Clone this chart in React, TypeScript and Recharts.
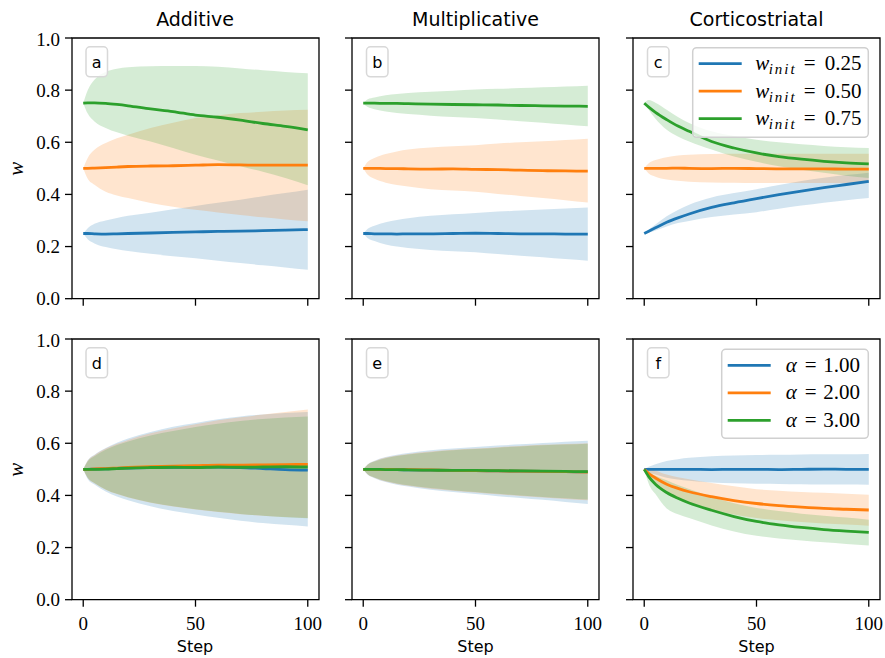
import React from 'react';
import { ComposedChart, Area, Line, XAxis, YAxis, ReferenceArea } from 'recharts';

// ---------- data ----------
const steps = [0, 2, 5, 10, 15, 20, 30, 40, 50, 60, 70, 80, 90, 100];
const xTicks = [0, 50, 100];
const yTicks = [0, 0.2, 0.4, 0.6, 0.8, 1.0];
const columnTitles = ['Additive', 'Multiplicative', 'Corticostriatal'];
const panelLetters = ['a', 'b', 'c', 'd', 'e', 'f'];
const topLegendValues = ['0.25', '0.50', '0.75'];
const bottomLegendValues = ['1.00', '2.00', '3.00'];
const colors = ['#1f77b4', '#ff7f0e', '#2ca02c'];

// panel a (Additive, w_init)
const aBlueMean = [0.25, 0.25, 0.249, 0.248, 0.249, 0.25, 0.252, 0.254, 0.256, 0.258, 0.259, 0.261, 0.263, 0.265];
const aBlueLo = [0.25, 0.228, 0.212, 0.198, 0.19, 0.183, 0.172, 0.163, 0.155, 0.146, 0.137, 0.128, 0.12, 0.111];
const aBlueHi = [0.25, 0.27, 0.287, 0.3, 0.31, 0.318, 0.33, 0.343, 0.356, 0.368, 0.38, 0.393, 0.405, 0.418];
const aOrangeMean = [0.5, 0.5, 0.501, 0.503, 0.505, 0.507, 0.509, 0.51, 0.512, 0.514, 0.513, 0.512, 0.512, 0.512];
const aOrangeLo = [0.5, 0.46, 0.437, 0.41, 0.396, 0.386, 0.367, 0.353, 0.341, 0.331, 0.321, 0.312, 0.304, 0.297];
const aOrangeHi = [0.5, 0.54, 0.571, 0.597, 0.615, 0.629, 0.655, 0.675, 0.693, 0.703, 0.712, 0.717, 0.722, 0.725];
const aGreenMean = [0.75, 0.751, 0.751, 0.749, 0.745, 0.74, 0.728, 0.718, 0.704, 0.696, 0.685, 0.672, 0.661, 0.648];
const aGreenLo = [0.75, 0.71, 0.68, 0.655, 0.638, 0.625, 0.603, 0.578, 0.552, 0.53, 0.508, 0.487, 0.463, 0.435];
const aGreenHi = [0.75, 0.8, 0.84, 0.87, 0.882, 0.888, 0.892, 0.893, 0.893, 0.89, 0.883, 0.876, 0.87, 0.865];

// panel b (Multiplicative, w_init)
const bBlueMean = [0.25, 0.25, 0.249, 0.249, 0.248, 0.249, 0.249, 0.25, 0.251, 0.25, 0.249, 0.249, 0.248, 0.248];
const bBlueLo = [0.25, 0.232, 0.221, 0.208, 0.2, 0.194, 0.187, 0.182, 0.178, 0.171, 0.165, 0.159, 0.152, 0.146];
const bBlueHi = [0.25, 0.268, 0.28, 0.293, 0.302, 0.309, 0.318, 0.324, 0.329, 0.334, 0.338, 0.342, 0.346, 0.35];
const bOrangeMean = [0.5, 0.5, 0.5, 0.499, 0.499, 0.498, 0.497, 0.498, 0.496, 0.495, 0.493, 0.491, 0.49, 0.489];
const bOrangeLo = [0.5, 0.475, 0.46, 0.445, 0.436, 0.43, 0.42, 0.415, 0.41, 0.402, 0.394, 0.386, 0.378, 0.369];
const bOrangeHi = [0.5, 0.525, 0.54, 0.555, 0.565, 0.572, 0.58, 0.585, 0.589, 0.595, 0.6, 0.604, 0.609, 0.614];
const bGreenMean = [0.75, 0.75, 0.75, 0.749, 0.749, 0.748, 0.746, 0.745, 0.744, 0.743, 0.741, 0.74, 0.739, 0.738];
const bGreenLo = [0.75, 0.735, 0.727, 0.718, 0.712, 0.708, 0.702, 0.697, 0.693, 0.687, 0.681, 0.675, 0.668, 0.661];
const bGreenHi = [0.75, 0.765, 0.772, 0.78, 0.785, 0.789, 0.794, 0.798, 0.802, 0.805, 0.808, 0.811, 0.814, 0.817];

// panel c (Corticostriatal, w_init)
const cBlueMean = [0.25, 0.259, 0.272, 0.293, 0.31, 0.325, 0.35, 0.368, 0.384, 0.399, 0.413, 0.426, 0.438, 0.45];
const cBlueLo = [0.25, 0.253, 0.262, 0.277, 0.29, 0.298, 0.313, 0.323, 0.332, 0.345, 0.357, 0.368, 0.378, 0.386];
const cBlueHi = [0.25, 0.265, 0.285, 0.316, 0.34, 0.36, 0.388, 0.405, 0.42, 0.436, 0.451, 0.464, 0.474, 0.483];
const cOrangeMean = [0.5, 0.5, 0.5, 0.5, 0.501, 0.5, 0.499, 0.5, 0.499, 0.498, 0.498, 0.498, 0.497, 0.497];
const cOrangeLo = [0.5, 0.48, 0.468, 0.457, 0.452, 0.449, 0.446, 0.445, 0.444, 0.444, 0.444, 0.444, 0.444, 0.444];
const cOrangeHi = [0.5, 0.52, 0.532, 0.543, 0.549, 0.552, 0.555, 0.556, 0.556, 0.556, 0.556, 0.556, 0.556, 0.556];
const cGreenMean = [0.75, 0.735, 0.715, 0.687, 0.662, 0.642, 0.603, 0.578, 0.559, 0.545, 0.535, 0.527, 0.521, 0.517];
const cGreenLo = [0.75, 0.725, 0.69, 0.648, 0.622, 0.603, 0.572, 0.545, 0.525, 0.508, 0.495, 0.483, 0.472, 0.463];
const cGreenHi = [0.75, 0.762, 0.752, 0.725, 0.697, 0.674, 0.642, 0.624, 0.61, 0.6, 0.592, 0.586, 0.581, 0.578];

// panel d (Additive, alpha)
const dBlueMean = [0.5, 0.5, 0.501, 0.502, 0.504, 0.505, 0.507, 0.508, 0.508, 0.509, 0.507, 0.503, 0.499, 0.497];
const dBlueLo = [0.5, 0.463, 0.442, 0.415, 0.396, 0.381, 0.358, 0.34, 0.327, 0.314, 0.303, 0.294, 0.287, 0.281];
const dBlueHi = [0.5, 0.535, 0.556, 0.582, 0.602, 0.618, 0.643, 0.663, 0.678, 0.692, 0.703, 0.71, 0.716, 0.72];
const dOrangeMean = [0.5, 0.5, 0.502, 0.503, 0.505, 0.507, 0.51, 0.512, 0.514, 0.516, 0.516, 0.517, 0.518, 0.519];
const dOrangeLo = [0.5, 0.467, 0.447, 0.422, 0.405, 0.392, 0.372, 0.357, 0.346, 0.336, 0.328, 0.322, 0.317, 0.313];
const dOrangeHi = [0.5, 0.533, 0.554, 0.58, 0.598, 0.613, 0.638, 0.657, 0.673, 0.688, 0.7, 0.71, 0.72, 0.73];
const dGreenMean = [0.5, 0.5, 0.5, 0.501, 0.503, 0.505, 0.507, 0.508, 0.507, 0.509, 0.508, 0.509, 0.51, 0.509];
const dGreenLo = [0.5, 0.468, 0.448, 0.423, 0.406, 0.393, 0.373, 0.358, 0.347, 0.337, 0.329, 0.322, 0.316, 0.312];
const dGreenHi = [0.5, 0.53, 0.55, 0.575, 0.593, 0.607, 0.63, 0.647, 0.662, 0.675, 0.685, 0.693, 0.699, 0.703];

// panel e (Multiplicative, alpha)
const eBlueMean = [0.5, 0.5, 0.5, 0.499, 0.499, 0.498, 0.497, 0.496, 0.495, 0.494, 0.493, 0.492, 0.491, 0.49];
const eBlueLo = [0.5, 0.479, 0.466, 0.451, 0.441, 0.434, 0.422, 0.413, 0.405, 0.397, 0.39, 0.383, 0.375, 0.367];
const eBlueHi = [0.5, 0.52, 0.533, 0.547, 0.556, 0.563, 0.573, 0.58, 0.586, 0.591, 0.596, 0.601, 0.606, 0.61];
const eOrangeMean = [0.5, 0.5, 0.5, 0.5, 0.499, 0.499, 0.498, 0.496, 0.495, 0.494, 0.493, 0.492, 0.491, 0.489];
const eOrangeLo = [0.5, 0.48, 0.468, 0.453, 0.444, 0.437, 0.426, 0.418, 0.411, 0.404, 0.398, 0.392, 0.386, 0.381];
const eOrangeHi = [0.5, 0.519, 0.531, 0.545, 0.553, 0.559, 0.568, 0.575, 0.58, 0.585, 0.59, 0.594, 0.597, 0.6];
const eGreenMean = [0.5, 0.5, 0.5, 0.499, 0.499, 0.498, 0.497, 0.496, 0.496, 0.495, 0.494, 0.493, 0.492, 0.491];
const eGreenLo = [0.5, 0.481, 0.469, 0.455, 0.446, 0.439, 0.428, 0.42, 0.413, 0.406, 0.4, 0.394, 0.389, 0.384];
const eGreenHi = [0.5, 0.518, 0.53, 0.543, 0.551, 0.557, 0.566, 0.573, 0.578, 0.583, 0.588, 0.592, 0.595, 0.598];

// panel f (Corticostriatal, alpha)
const fBlueMean = [0.5, 0.5, 0.5, 0.5, 0.5, 0.5, 0.499, 0.5, 0.5, 0.499, 0.5, 0.501, 0.5, 0.5];
const fBlueLo = [0.5, 0.49, 0.48, 0.468, 0.461, 0.456, 0.45, 0.447, 0.445, 0.444, 0.443, 0.442, 0.442, 0.441];
const fBlueHi = [0.5, 0.51, 0.52, 0.532, 0.539, 0.544, 0.55, 0.553, 0.555, 0.556, 0.557, 0.558, 0.558, 0.559];
const fOrangeMean = [0.5, 0.484, 0.467, 0.443, 0.427, 0.414, 0.395, 0.38, 0.369, 0.361, 0.355, 0.35, 0.347, 0.344];
const fOrangeLo = [0.5, 0.465, 0.44, 0.405, 0.385, 0.37, 0.345, 0.327, 0.313, 0.305, 0.298, 0.292, 0.288, 0.284];
const fOrangeHi = [0.5, 0.5, 0.495, 0.48, 0.47, 0.462, 0.448, 0.435, 0.424, 0.418, 0.413, 0.41, 0.406, 0.403];
const fGreenMean = [0.5, 0.472, 0.443, 0.411, 0.389, 0.371, 0.343, 0.319, 0.3, 0.287, 0.277, 0.269, 0.263, 0.258];
const fGreenLo = [0.5, 0.445, 0.405, 0.35, 0.328, 0.313, 0.285, 0.262, 0.245, 0.235, 0.227, 0.22, 0.214, 0.208];
const fGreenHi = [0.5, 0.492, 0.475, 0.458, 0.44, 0.425, 0.395, 0.37, 0.352, 0.34, 0.33, 0.322, 0.315, 0.307];

type Series = { mean: number[]; lo: number[]; hi: number[] };

const panelSeries: Series[][] = [
  [
    { mean: aBlueMean, lo: aBlueLo, hi: aBlueHi },
    { mean: aOrangeMean, lo: aOrangeLo, hi: aOrangeHi },
    { mean: aGreenMean, lo: aGreenLo, hi: aGreenHi },
  ],
  [
    { mean: bBlueMean, lo: bBlueLo, hi: bBlueHi },
    { mean: bOrangeMean, lo: bOrangeLo, hi: bOrangeHi },
    { mean: bGreenMean, lo: bGreenLo, hi: bGreenHi },
  ],
  [
    { mean: cBlueMean, lo: cBlueLo, hi: cBlueHi },
    { mean: cOrangeMean, lo: cOrangeLo, hi: cOrangeHi },
    { mean: cGreenMean, lo: cGreenLo, hi: cGreenHi },
  ],
  [
    { mean: dBlueMean, lo: dBlueLo, hi: dBlueHi },
    { mean: dOrangeMean, lo: dOrangeLo, hi: dOrangeHi },
    { mean: dGreenMean, lo: dGreenLo, hi: dGreenHi },
  ],
  [
    { mean: eBlueMean, lo: eBlueLo, hi: eBlueHi },
    { mean: eOrangeMean, lo: eOrangeLo, hi: eOrangeHi },
    { mean: eGreenMean, lo: eGreenLo, hi: eGreenHi },
  ],
  [
    { mean: fBlueMean, lo: fBlueLo, hi: fBlueHi },
    { mean: fOrangeMean, lo: fOrangeLo, hi: fOrangeHi },
    { mean: fGreenMean, lo: fGreenLo, hi: fGreenHi },
  ],
];

// ---------- layout ----------
const COL_LEFT = [71.5, 352, 633];
const ROW_TOP = [38.3, 339.3];
const PLOT_W = 247;
const PLOT_H = 260.7;
const Y_AXIS_W = 70;
const X_AXIS_H = 45;
const M_TOP = 10;
const M_RIGHT = 10;

const SERIF = 'Liberation Serif';
const SANS = 'DejaVu Sans';

function buildData(series: Series[]) {
  return steps.map((s, i) => {
    const row: Record<string, any> = { step: s };
    series.forEach((sr, k) => {
      row['m' + k] = sr.mean[i];
      row['b' + k] = [sr.lo[i], sr.hi[i]];
    });
    return row;
  });
}

function Panel({ index }: { index: number }) {
  const r = Math.floor(index / 3);
  const c = index % 3;
  const series = panelSeries[index];
  const data = buildData(series);
  return (
    <div style={{ position: 'absolute', left: COL_LEFT[c] - Y_AXIS_W, top: ROW_TOP[r] - M_TOP }}>
      <ComposedChart
        width={PLOT_W + Y_AXIS_W + M_RIGHT}
        height={PLOT_H + M_TOP + X_AXIS_H}
        data={data}
        margin={{ top: M_TOP, right: M_RIGHT, bottom: 0, left: 0 }}
      >
        <XAxis
          dataKey="step"
          type="number"
          domain={[-5, 105]}
          ticks={xTicks}
          axisLine={false}
          tickLine={{ stroke: '#000', strokeWidth: 1.3 }}
          tickSize={7}
          tickMargin={10}
          height={X_AXIS_H}
          tick={{ fill: '#000', fontSize: 19, fontFamily: SERIF }}
          tickFormatter={r === 1 ? (v: number) => String(v) : () => ''}
        />
        <YAxis
          type="number"
          domain={[0, 1]}
          ticks={yTicks}
          axisLine={false}
          tickLine={{ stroke: '#000', strokeWidth: 1.3 }}
          tickSize={7}
          tickMargin={5}
          width={Y_AXIS_W}
          tick={{ fill: '#000', fontSize: 19, fontFamily: SERIF }}
          tickFormatter={c === 0 ? (v: number) => v.toFixed(1) : () => ''}
        />
        {series.map((_, k) => (
          <Area
            key={'band' + k}
            dataKey={'b' + k}
            type="monotone"
            stroke="none"
            fill={colors[k]}
            fillOpacity={0.2}
            dot={false}
            activeDot={false}
            isAnimationActive={false}
          />
        ))}
        {series.map((_, k) => (
          <Line
            key={'line' + k}
            dataKey={'m' + k}
            type="monotone"
            stroke={colors[k]}
            strokeWidth={2.8}
            dot={false}
            activeDot={false}
            isAnimationActive={false}
          />
        ))}
        <ReferenceArea
          x1={-5}
          x2={105}
          y1={0}
          y2={1}
          fill="none"
          stroke="#000"
          strokeWidth={1.3}
          ifOverflow="visible"
        />
      </ComposedChart>
    </div>
  );
}

function LegendBox({ x, y, w, h, kind, labels }: { x: number; y: number; w: number; h: number; kind: 'w' | 'a'; labels: string[] }) {
  const rowY = [y + 16, y + 43.5, y + 71];
  return (
    <g>
      <rect x={x} y={y} width={w} height={h} rx={4} ry={4} fill="#fff" fillOpacity={0.8} stroke="#d0d0d0" strokeWidth={1.5} />
      {labels.map((lab, i) => (
        <g key={lab}>
          <line x1={x + 6} x2={x + 49} y1={rowY[i]} y2={rowY[i]} stroke={colors[i]} strokeWidth={2.8} />
          {kind === 'w' ? (
            <text y={rowY[i] + 6.5} fontFamily={SERIF} fontSize={21} fill="#000">
              <tspan x={x + 62.5} fontStyle="italic">w</tspan>
              <tspan x={x + 76} dy={4} fontStyle="italic" fontSize={15} letterSpacing={2}>init</tspan>
              <tspan x={x + 111} dy={-4}>=</tspan>
              <tspan x={x + 132}>{lab}</tspan>
            </text>
          ) : (
            <text y={rowY[i] + 6.5} fontFamily={SERIF} fontSize={21} fill="#000">
              <tspan x={x + 64} fontStyle="italic">α</tspan>
              <tspan x={x + 83}>=</tspan>
              <tspan x={x + 101.5}>{lab}</tspan>
            </text>
          )}
        </g>
      ))}
    </g>
  );
}

function Overlay() {
  return (
    <svg width={885} height={658} style={{ position: 'absolute', left: 0, top: 0, pointerEvents: 'none' }}>
      {columnTitles.map((t, c) => (
        <text key={t} x={COL_LEFT[c] + PLOT_W / 2} y={26} textAnchor="middle" fontFamily={SANS} fontSize={19} fill="#000">
          {t}
        </text>
      ))}
      {COL_LEFT.map((l, c) => (
        <text key={'step' + c} x={l + PLOT_W / 2} y={652} textAnchor="middle" fontFamily={SANS} fontSize={16} fill="#000">
          Step
        </text>
      ))}
      {ROW_TOP.map((t, r) => (
        <text
          key={'yl' + r}
          x={16}
          y={t + PLOT_H / 2}
          transform={`rotate(-90 16 ${t + PLOT_H / 2})`}
          textAnchor="middle"
          dominantBaseline="central"
          fontFamily={SERIF}
          fontStyle="italic"
          fontSize={21}
          fill="#000"
        >
          w
        </text>
      ))}
      {panelLetters.map((L, i) => {
        const r = Math.floor(i / 3);
        const c = i % 3;
        const bx = COL_LEFT[c] + 14.5;
        const by = ROW_TOP[r] + 8.5;
        return (
          <g key={L}>
            <rect x={bx} y={by} width={21.5} height={30} rx={4} ry={4} fill="#fff" fillOpacity={0.8} stroke="#d8d8d8" strokeWidth={1.5} />
            <text x={bx + 10.75} y={ROW_TOP[r] + 30} textAnchor="middle" fontFamily={SANS} fontSize={16} fill="#000">
              {L}
            </text>
          </g>
        );
      })}
      <LegendBox x={692.7} y={47.7} w={175.6} h={89.6} kind="w" labels={topLegendValues} />
      <LegendBox x={721.7} y={349.3} w={146.6} h={89} kind="a" labels={bottomLegendValues} />
    </svg>
  );
}

export default function App() {
  return (
    <div style={{ position: 'absolute', left: 0, top: 0, width: 885, height: 658, background: '#fff' }}>
      {[0, 1, 2, 3, 4, 5].map((i) => (
        <Panel key={i} index={i} />
      ))}
      <Overlay />
    </div>
  );
}
